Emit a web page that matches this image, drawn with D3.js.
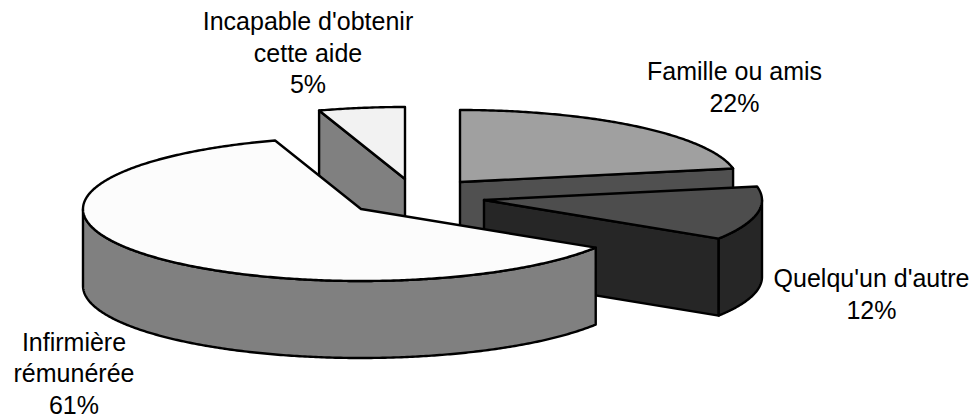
<!DOCTYPE html>
<html><head><meta charset="utf-8">
<script src="https://cdn.jsdelivr.net/npm/d3@7"></script>
<style>html,body{margin:0;padding:0;background:#fff}svg{display:block}</style></head>
<body><svg id="chart" width="979" height="418"></svg>
<script>
// Survey answers, in clockwise order from twelve o'clock
const categories = ["Famille ou amis", "Quelqu'un d'autre", "Infirmière rémunérée", "Incapable d'obtenir cette aide"];
const shares = [22, 12, 61, 5];
const shareLabels = ["22%", "12%", "61%", "5%"];
const labelLines = [["Famille ou amis"], ["Quelqu'un d'autre"], ["Infirmière", "rémunérée"], ["Incapable d'obtenir", "cette aide"]];
const topColors = ["#a0a0a0", "#4d4d4d", "#fcfcfc", "#f2f2f2"];
const sideColors = ["#505050", "#262626", "#808080", "#808080"];

// Exploded slice hubs, label anchors (first baseline) and pie proportions
const hubs = [[460, 182], [484, 200], [361, 209], [405, 179]];
const labelAnchors = [[734.5, 80], [871.5, 287], [74, 350.5], [308, 30]];
const rx = 278, ry = 72, depth = 77, lineGap = 31.5;

const svg = d3.select("#chart");
const pie = d3.pie().sort(null).value(d => d);
const arcs = pie(shares);

// Unit-circle coordinates are projected onto the tilted pie plane
const sx = d3.scaleLinear().domain([-1, 1]).range([-rx, rx]);
const sy = d3.scaleLinear().domain([-1, 1]).range([-ry, ry]);
const project = (a, hub, dz = 0) => [hub[0] + sx(Math.sin(a)), hub[1] + sy(-Math.cos(a)) + dz];
const line = d3.line();
const sweep = (a0, a1) => {
  const n = Math.max(2, Math.ceil(Math.abs(a1 - a0) / 0.01));
  return d3.range(n + 1).map(i => a0 + (a1 - a0) * i / n);
};
const wall = (hub, p) => [hub, p, [p[0], p[1] + depth], [hub[0], hub[1] + depth]];

// Painter's order: far slices first, the large front slice last
const order = [3, 0, 1, 2];
order.forEach(i => {
  const { startAngle: a0, endAngle: a1 } = arcs[i];
  const hub = hubs[i];
  const g = svg.append("g").attr("stroke", "#000").attr("stroke-width", 2.4).attr("stroke-linejoin", "round");

  // Cut faces that turn towards the viewer
  if (i === 0 || i === 1) {
    g.append("path").attr("d", line(wall(hub, project(a1, hub))) + "Z").attr("fill", sideColors[i]);
  }
  if (i === 3) {
    g.append("path").attr("d", line(wall(hub, project(a0, hub))) + "Z").attr("fill", sideColors[i]);
  }

  // Outer wall, limited to the near half of the rim between the two silhouette points
  const rimFrom = Math.max(a0, Math.PI / 2), rimTo = Math.min(a1, 3 * Math.PI / 2);
  if (rimTo > rimFrom) {
    const upper = sweep(rimFrom, rimTo).map(a => project(a, hub));
    const lower = sweep(rimTo, rimFrom).map(a => project(a, hub, depth));
    g.append("path").attr("d", line(upper.concat(lower)) + "Z").attr("fill", sideColors[i]);
  }

  // Top face
  const top = [hub, ...sweep(a0, a1).map(a => project(a, hub))];
  g.append("path").attr("d", line(top) + "Z").attr("fill", topColors[i]);
});

// Category labels with their percentages underneath
const labels = svg.append("g")
  .attr("font-family", "'Liberation Sans', Arial, sans-serif")
  .attr("font-size", 25).attr("fill", "#000").attr("text-anchor", "middle");
categories.forEach((c, i) => {
  const lines = [...labelLines[i], shareLabels[i]];
  const t = labels.append("text");
  lines.forEach((s, k) => t.append("tspan")
    .attr("x", labelAnchors[i][0])
    .attr("y", labelAnchors[i][1] + k * lineGap)
    .text(s));
});
</script></body></html>
